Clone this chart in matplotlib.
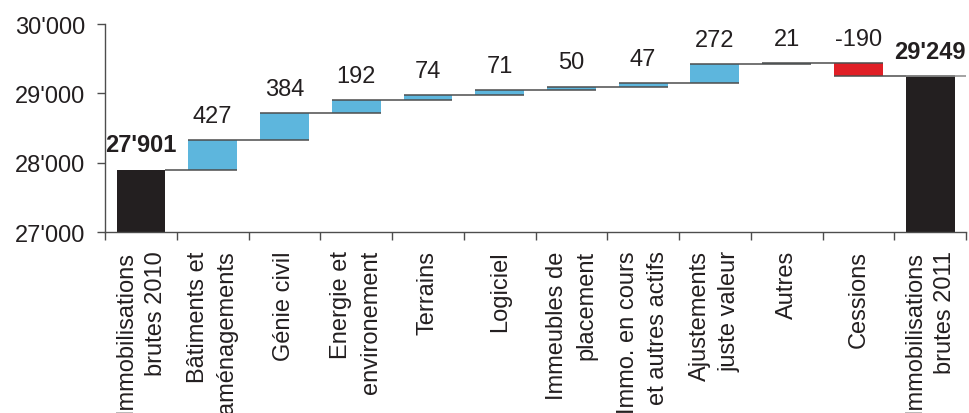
import matplotlib
matplotlib.use("Agg")
import matplotlib.pyplot as plt
from matplotlib.ticker import FuncFormatter, FixedLocator

plt.rcParams['font.family'] = ['Liberation Sans', 'DejaVu Sans']

categories = [
    "Immobilisations\nbrutes 2010",
    "Bâtiments et\naménagements",
    "Génie civil",
    "Energie et\nenvironement",
    "Terrains",
    "Logiciel",
    "Immeubles de\nplacement",
    "Immo. en cours\net autres actifs",
    "Ajustements\njuste valeur",
    "Autres",
    "Cessions",
    "Immobilisations\nbrutes 2011",
]
start_total = 27901
changes = [427, 384, 192, 74, 71, 50, 47, 272, 21, -190]
end_total = 29249
value_labels = ["27'901", "427", "384", "192", "74", "71", "50", "47",
                "272", "21", "-190", "29'249"]
y_ticks = [27000, 28000, 29000, 30000]

DARK = "#231f20"
BLUE = "#5db6dd"
RED = "#e01f26"
LINE = "#4d4d4d"

fig = plt.figure(figsize=(9.69, 4.14), dpi=100)
ax = fig.add_axes([0.1084, 0.437, 0.8885, 0.5025])

width = 0.68
half = width / 2
n = len(categories)

# bar extents (bottom, top) and colours
bottoms, tops, colors = [], [], []
bottoms.append(27000); tops.append(start_total); colors.append(DARK)
level = start_total
for c in changes:
    new = level + c
    bottoms.append(min(level, new)); tops.append(max(level, new))
    colors.append(BLUE if c >= 0 else RED)
    level = new
bottoms.append(27000); tops.append(end_total); colors.append(DARK)

xs = list(range(n))
ax.bar(xs, [t - b for t, b in zip(tops, bottoms)], bottom=bottoms,
       width=width, color=colors, zorder=2)

# running-level connector lines
levels = [start_total]
for c in changes:
    levels.append(levels[-1] + c)
for i, lv in enumerate(levels):
    x0 = i - half if i > 0 else i + half
    x1 = i + 1 + half
    ax.plot([x0, x1], [lv, lv], color=LINE, lw=1.1, zorder=3,
            solid_capstyle='butt')
ax.plot([n - 1 - half, n - 0.5], [end_total, end_total], color="#8a8a8a",
        lw=1.1, zorder=3, solid_capstyle='butt')

# value labels
for i, lab in enumerate(value_labels):
    bold = i in (0, n - 1)
    ax.annotate(lab, xy=(i, tops[i]), xytext=(0, 9.5), textcoords='offset points',
                ha='center', va='bottom', fontsize=17, color=DARK,
                fontweight='bold' if bold else 'normal')

ax.set_xlim(-0.5, n - 0.5)
ax.set_ylim(27000, 30000)
ax.set_yticks(y_ticks)
ax.yaxis.set_major_formatter(FuncFormatter(lambda v, p: f"{int(v):,}".replace(",", "'")))

ax.set_xticks(xs)
ax.set_xticklabels(categories, rotation=90, ha='center', va='top',
                   multialignment='right', linespacing=1.45)
ax.xaxis.set_minor_locator(FixedLocator([i - 0.5 for i in range(n + 1)]))
ax.tick_params(axis='x', which='major', length=0, pad=13, labelsize=17,
               labelcolor=DARK)
ax.tick_params(axis='x', which='minor', length=6, width=1, color=LINE,
               direction='out')
ax.tick_params(axis='y', length=6, width=1, color=LINE, pad=8,
               labelsize=17, labelcolor=DARK)

for s in ('top', 'right'):
    ax.spines[s].set_visible(False)
for s in ('left', 'bottom'):
    ax.spines[s].set_color(LINE)
    ax.spines[s].set_linewidth(1)

fig.savefig("out.png", dpi=100)
